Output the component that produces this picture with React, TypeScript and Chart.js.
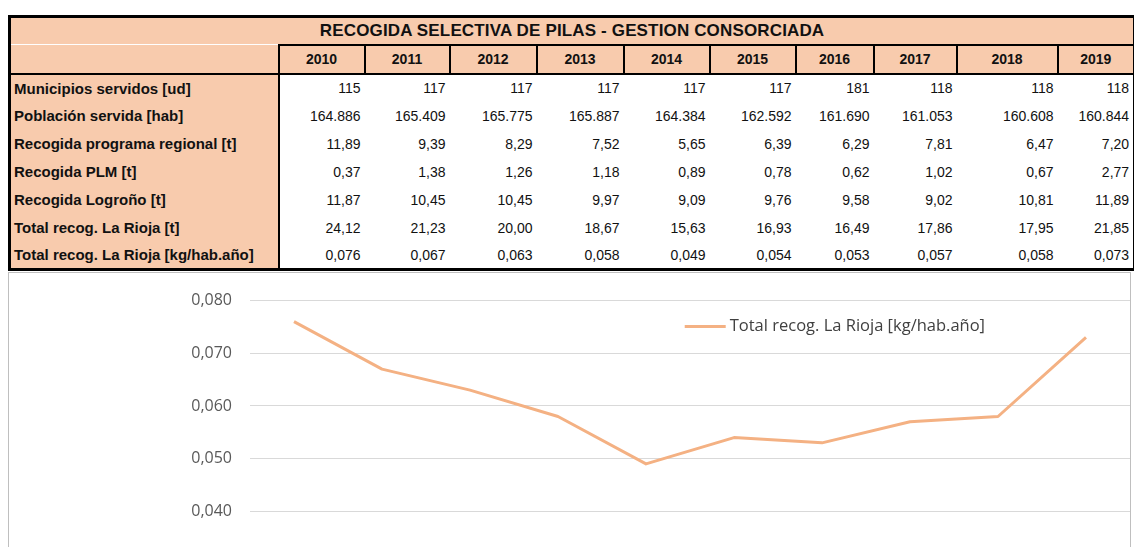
import React, { useEffect, useRef } from 'react';
import { Chart, registerables } from 'chart.js';

Chart.register(...registerables);

const title = 'RECOGIDA SELECTIVA DE PILAS - GESTION CONSORCIADA';
const years = ['2010', '2011', '2012', '2013', '2014', '2015', '2016', '2017', '2018', '2019'];

const municipios = [115, 117, 117, 117, 117, 117, 181, 118, 118, 118];
const poblacion = [164886, 165409, 165775, 165887, 164384, 162592, 161690, 161053, 160608, 160844];
const regional = [11.89, 9.39, 8.29, 7.52, 5.65, 6.39, 6.29, 7.81, 6.47, 7.2];
const plm = [0.37, 1.38, 1.26, 1.18, 0.89, 0.78, 0.62, 1.02, 0.67, 2.77];
const logrono = [11.87, 10.45, 10.45, 9.97, 9.09, 9.76, 9.58, 9.02, 10.81, 11.89];
const totalT = [24.12, 21.23, 20.0, 18.67, 15.63, 16.93, 16.49, 17.86, 17.95, 21.85];
const ratio = [0.076, 0.067, 0.063, 0.058, 0.049, 0.054, 0.053, 0.057, 0.058, 0.073];

const rowLabels = [
  'Municipios servidos [ud]',
  'Población servida [hab]',
  'Recogida programa regional [t]',
  'Recogida PLM [t]',
  'Recogida Logroño [t]',
  'Total recog. La Rioja [t]',
  'Total recog. La Rioja [kg/hab.año]',
];
const rowValues = [municipios, poblacion, regional, plm, logrono, totalT, ratio];
const rowDecimals = [0, 0, 2, 2, 2, 2, 3];

const seriesLabel = 'Total recog. La Rioja [kg/hab.año]';
const yMin = 0.03;
const yMax = 0.08;
const yStep = 0.01;

const colWidths = [269, 86, 85, 87, 87, 86, 86, 78, 83, 101, 77];

const PEACH = '#F8CBAD';
const LINE = '#F4B183';
const SANS = '"Liberation Sans", Arial, sans-serif';

function fmt(v: number, dec: number): string {
  const s = v.toFixed(dec);
  const [i, d] = s.split('.');
  const ig = i.replace(/\B(?=(\d{3})+(?!\d))/g, '.');
  return d ? ig + ',' + d : ig;
}

const inlineLegend = {
  id: 'inlineLegend',
  afterDraw(chart: any) {
    const { ctx, chartArea } = chart;
    const ds = chart.data.datasets[0];
    const x0 = chartArea.left + chartArea.width * 0.494;
    const y0 = chartArea.top + 26;
    ctx.save();
    ctx.strokeStyle = ds.borderColor;
    ctx.lineWidth = 3;
    ctx.beginPath();
    ctx.moveTo(x0, y0);
    ctx.lineTo(x0 + 41, y0);
    ctx.stroke();
    ctx.font = '16.5px "Open Sans"';
    ctx.fillStyle = '#404040';
    ctx.textBaseline = 'middle';
    ctx.textAlign = 'left';
    ctx.fillText(ds.label, x0 + 45, y0);
    ctx.restore();
  },
};

function LineChart() {
  const ref = useRef<HTMLCanvasElement | null>(null);
  useEffect(() => {
    if (!ref.current) return;
    const chart = new Chart(ref.current, {
      type: 'line',
      data: {
        labels: years,
        datasets: [
          {
            label: seriesLabel,
            data: ratio,
            borderColor: LINE,
            backgroundColor: LINE,
            borderWidth: 3,
            pointRadius: 0,
            pointHoverRadius: 0,
            tension: 0,
            fill: false,
            borderJoinStyle: 'round',
          },
        ],
      },
      options: {
        animation: false,
        responsive: false,
        maintainAspectRatio: false,
        layout: { padding: { top: 27, left: 0, right: 0, bottom: 0 } },
        plugins: { legend: { display: false }, tooltip: { enabled: false } },
        scales: {
          x: {
            offset: true,
            grid: { display: false, drawTicks: false },
            border: { display: true, color: '#D9D9D9' },
            ticks: { color: '#595959', font: { family: 'Open Sans', size: 16 } },
            afterFit: (s: any) => {
              s.height = 39;
            },
          },
          y: {
            min: yMin,
            max: yMax,
            ticks: {
              stepSize: yStep,
              padding: 18,
              color: '#595959',
              font: { family: 'Open Sans', size: 16 },
              callback: (v: any) => fmt(Number(v), 3),
            },
            grid: { color: '#D9D9D9', lineWidth: 1, drawTicks: false },
            border: { display: false },
            afterFit: (s: any) => {
              s.width = 241;
            },
          },
        },
      },
      plugins: [inlineLegend],
    } as any);
    return () => chart.destroy();
  }, []);
  return <canvas ref={ref} width={1121} height={330} style={{ display: 'block', width: 1121, height: 330 }} />;
}

export default function App() {
  const outer = '3px solid #000';
  const inner = '2px solid #000';
  const cellBase: React.CSSProperties = {
    padding: 0,
    fontFamily: SANS,
    fontSize: 14,
    color: '#111',
    whiteSpace: 'nowrap',
    overflow: 'hidden',
  };
  return (
    <div
      style={{
        position: 'absolute',
        left: 0,
        top: 0,
        width: 1134,
        height: 547,
        overflow: 'hidden',
        background: '#fff',
      }}
    >
      <table
        style={{
          position: 'absolute',
          left: 8,
          top: 15,
          width: 1125,
          borderCollapse: 'collapse',
          tableLayout: 'fixed',
          border: outer,
        }}
      >
        <colgroup>
          {colWidths.map((w, i) => (
            <col key={i} style={{ width: w }} />
          ))}
        </colgroup>
        <tbody>
          <tr style={{ height: 28 }}>
            <td
              colSpan={11}
              style={{
                ...cellBase,
                background: PEACH,
                textAlign: 'center',
                fontWeight: 'bold',
                fontSize: 17,
                letterSpacing: 0.15,
                borderBottom: 'none',
              }}
            >
              {title}
            </td>
          </tr>
          <tr style={{ height: 29 }}>
            <td style={{ ...cellBase, background: PEACH, borderTop: 'none', borderRight: inner, borderBottom: inner }} />
            {years.map((y) => (
              <td
                key={y}
                style={{
                  ...cellBase,
                  background: PEACH,
                  textAlign: 'center',
                  fontWeight: 'bold',
                  border: inner,
                }}
              >
                {y}
              </td>
            ))}
          </tr>
          {rowLabels.map((lab, r) => (
            <tr key={lab} style={{ height: 28 }}>
              <td
                style={{
                  ...cellBase,
                  background: PEACH,
                  fontWeight: 'bold',
                  fontSize: 15,
                  paddingLeft: 3,
                  borderRight: inner,
                }}
              >
                {lab}
              </td>
              {rowValues[r].map((v, c) => (
                <td key={c} style={{ ...cellBase, textAlign: 'right', paddingRight: 4 }}>
                  {fmt(v, rowDecimals[r])}
                </td>
              ))}
            </tr>
          ))}
        </tbody>
      </table>
      <div
        style={{
          position: 'absolute',
          left: 8,
          top: 272,
          width: 1123,
          height: 332,
          boxSizing: 'border-box',
          border: '1px solid #BFBFBF',
          background: '#fff',
        }}
      >
        <LineChart />
      </div>
    </div>
  );
}
